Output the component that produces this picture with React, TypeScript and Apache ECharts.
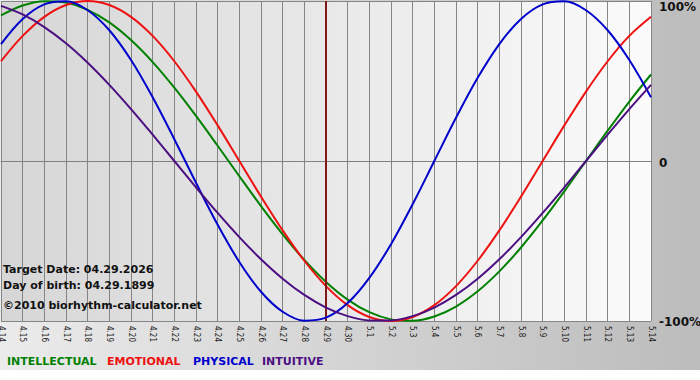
import React, { useEffect, useRef } from "react";
import * as echarts from "echarts";

const dates = [
  "4.14", "4.15", "4.16", "4.17", "4.18", "4.19", "4.20", "4.21", "4.22", "4.23",
  "4.24", "4.25", "4.26", "4.27", "4.28", "4.29", "4.30", "5.1", "5.2", "5.3",
  "5.4", "5.5", "5.6", "5.7", "5.8", "5.9", "5.10", "5.11", "5.12", "5.13", "5.14",
];

const intellectual = [
  90.96, 97.18, 99.89, 98.98, 94.5, 86.6, 75.57, 61.82, 45.82, 28.17, 9.51, -9.51,
  -28.17, -45.82, -61.82, -75.57, -86.6, -94.5, -98.98, -99.89, -97.18, -90.96,
  -81.46, -69.01, -54.06, -37.17, -18.93, 0, 18.93, 37.17, 54.06,
];
const emotional = [
  62.35, 78.18, 90.1, 97.49, 100, 97.49, 90.1, 78.18, 62.35, 43.39, 22.25, 0,
  -22.25, -43.39, -62.35, -78.18, -90.1, -97.49, -100, -97.49, -90.1, -78.18,
  -62.35, -43.39, -22.25, 0, 22.25, 43.39, 62.35, 78.18, 90.1,
];
const physical = [
  73.08, 88.79, 97.91, 99.77, 94.23, 81.7, 63.11, 39.84, 13.62, -13.62, -39.84,
  -63.11, -81.7, -94.23, -99.77, -97.91, -88.79, -73.08, -51.96, -26.98, 0, 26.98,
  51.96, 73.08, 88.79, 97.91, 99.77, 94.23, 81.7, 63.11, 39.84,
];
const intuitive = [
  96.94, 91.58, 83.72, 73.57, 61.42, 47.59, 32.47, 16.46, 0, -16.46, -32.47,
  -47.59, -61.42, -73.57, -83.72, -91.58, -96.94, -99.66, -99.66, -96.94, -91.58,
  -83.72, -73.57, -61.42, -47.59, -32.47, -16.46, 0, 16.46, 32.47, 47.59,
];

const targetDay = "4.29";
const infoLines = [
  "Target Date: 04.29.2026",
  "Day of birth: 04.29.1899",
  "\u00A92010 biorhythm-calculator.net",
];
const legendNames = ["INTELLECTUAL", "EMOTIONAL", "PHYSICAL", "INTUITIVE"];
const colors = ["#008000", "#ee1111", "#0000cc", "#4b0f82"];

export default function App() {
  const ref = useRef<HTMLDivElement>(null);
  useEffect(() => {
    if (!ref.current) return;
    const chart = echarts.init(ref.current, undefined, { renderer: "svg" });
    const font = "'DejaVu Sans', Verdana, sans-serif";
    const legendX = [7, 107, 193, 262];
    const infoY = [271, 287, 307];
    const seriesData = [intellectual, emotional, physical, intuitive];
    chart.setOption({
      animation: false,
      backgroundColor: "#ffffff",
      graphic: [
        {
          type: "rect",
          z: -10,
          silent: true,
          shape: { x: 0, y: 0, width: 700, height: 370 },
          style: {
            fill: new echarts.graphic.LinearGradient(0, 0, 1, 0, [
              { offset: 0, color: "#ebebeb" },
              { offset: 1, color: "#bcbcbc" },
            ]),
          },
        },
        ...infoLines.map((t, i) => ({
          type: "text",
          z: 50,
          left: 3,
          top: infoY[i] - 7,
          style: {
            text: t,
            fill: "#111",
            font: `bold 11px ${font}`,
          },
        })),
        ...legendNames.map((t, i) => ({
          type: "text",
          left: legendX[i],
          top: 356,
          style: {
            text: t,
            fill: colors[i],
            font: `bold 11px ${font}`,
          },
        })),
      ],
      grid: {
        left: 1,
        right: 49,
        top: 1,
        bottom: 59,
        containLabel: false,
        outerBoundsMode: "none",
        show: true,
        borderWidth: 0,
        backgroundColor: new echarts.graphic.LinearGradient(0, 0, 1, 0, [
          { offset: 0, color: "#d6d6d6" },
          { offset: 1, color: "#fbfbfb" },
        ]),
      },
      xAxis: {
        type: "category",
        data: dates,
        boundaryGap: false,
        axisLine: { show: true, lineStyle: { color: "#808080", width: 1 } },
        axisTick: { show: true, interval: 0, length: 3, lineStyle: { color: "#808080" } },
        axisLabel: {
          interval: 0,
          rotate: -90,
          margin: 5,
          fontSize: 8,
          fontFamily: "'DejaVu Sans Condensed', 'DejaVu Sans', sans-serif",
          color: "#1a1a1a",
        },
        splitLine: { show: true, interval: 0, lineStyle: { color: "#858585", width: 1 } },
      },
      yAxis: {
        type: "value",
        position: "right",
        min: -100,
        max: 100,
        interval: 100,
        axisLine: { show: false },
        axisTick: { show: false },
        splitLine: { show: true, lineStyle: { color: "#858585", width: 1 } },
        axisLabel: {
          margin: 8,
          formatter: (v: number) =>
            v === 100 ? "{t|100%}" : v === 0 ? "{z|0}" : "{b|-100%}",
          rich: {
            t: { fontSize: 12, fontWeight: "bold", fontFamily: font, color: "#111", padding: [12, 0, 0, 0] },
            z: { fontSize: 12, fontWeight: "bold", fontFamily: font, color: "#111", padding: [3, 0, 0, 0] },
            b: { fontSize: 12, fontWeight: "bold", fontFamily: font, color: "#111", padding: [2, 0, 0, 0] },
          },
        },
      },
      series: seriesData.map((d, i) => ({
        type: "line",
        name: legendNames[i],
        data: d,
        smooth: 0.34,
        showSymbol: false,
        lineStyle: { color: colors[i], width: 2 },
        itemStyle: { color: colors[i] },
        z: 3 + i,
        markLine:
          i === 0
            ? {
                silent: true,
                symbol: "none",
                label: { show: false },
                lineStyle: { color: "#801818", width: 2, type: "solid" },
                data: [{ xAxis: targetDay }],
              }
            : undefined,
      })),
    });
    return () => chart.dispose();
  }, []);
  return (
    <div
      ref={ref}
      style={{ position: "absolute", left: 0, top: 0, width: 700, height: 380 }}
    />
  );
}
